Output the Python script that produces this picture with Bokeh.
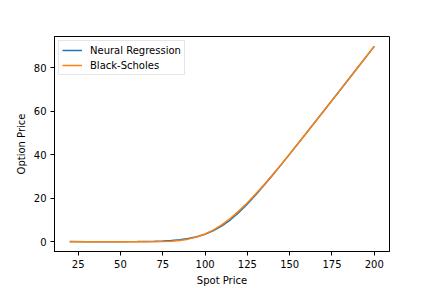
from bokeh.plotting import figure
from bokeh.models import Range1d, FixedTicker, Legend, LegendItem
from bokeh.embed import file_html
from bokeh.resources import INLINE

spot = [20, 30, 40, 50, 60, 65, 70, 75, 80, 85, 90, 95, 100, 105, 110, 115,
        120, 125, 130, 135, 140, 145, 150, 160, 170, 180, 190, 200]
neural = [0.05, 0.04, 0.03, 0.03, 0.05, 0.1, 0.2, 0.35, 0.6, 0.95, 1.45, 2.25,
          3.45, 5.1, 7.3, 10.1, 13.5, 17.4, 21.6, 26.1, 30.7, 35.5, 40.35,
          50.15, 60.05, 70.0, 80.0, 89.95]
black_scholes = [0.0, 0.0, 0.0, 0.0, 0.0, 0.01, 0.03, 0.1, 0.26, 0.59, 1.19,
                 2.15, 3.56, 5.46, 7.9, 10.82, 14.19, 17.96, 22.05, 26.39,
                 30.93, 35.6, 40.4, 50.17, 60.06, 70.03, 80.01, 90.0]
x_ticks = [25, 50, 75, 100, 125, 150, 175, 200]
y_ticks = [0, 20, 40, 60, 80]

p = figure(width=432, height=288, output_backend="svg", toolbar_location=None,
           x_range=Range1d(11, 209), y_range=Range1d(-4.5, 94.5),
           min_border_left=54, min_border_top=36, min_border_right=43,
           min_border_bottom=36)
p.background_fill_color = "white"
p.border_fill_color = "white"
p.outline_line_color = "black"
p.outline_line_width = 1
p.xgrid.visible = False
p.ygrid.visible = False

r1 = p.line(spot, neural, line_color="#1f77b4", line_width=1.5)
r2 = p.line(spot, black_scholes, line_color="#ff7f0e", line_width=1.5)

for ax, ticks, lab in ((p.xaxis[0], x_ticks, "Spot Price"), (p.yaxis[0], y_ticks, "Option Price")):
    ax.ticker = FixedTicker(ticks=ticks)
    ax.axis_label = lab
    ax.axis_label_text_font = "DejaVu Sans"
    ax.axis_label_text_font_size = "10px"
    ax.axis_label_text_font_style = "normal"
    ax.axis_label_text_color = "black"
    ax.axis_label_standoff = 4
    ax.major_label_text_font = "DejaVu Sans"
    ax.major_label_text_font_size = "10px"
    ax.major_label_text_color = "black"
    ax.major_label_standoff = 4
    ax.major_tick_out = 4
    ax.major_tick_in = 0
    ax.minor_tick_out = 0
    ax.minor_tick_in = 0
    ax.axis_line_color = "black"
    ax.major_tick_line_color = "black"

legend = Legend(items=[LegendItem(label="Neural Regression", renderers=[r1]),
                       LegendItem(label="Black-Scholes", renderers=[r2])],
                location="top_left")
legend.label_text_font = "DejaVu Sans"
legend.label_text_font_size = "10px"
legend.label_text_color = "black"
legend.label_text_baseline = "middle"
legend.border_line_color = "#cccccc"
legend.border_line_width = 1
legend.background_fill_alpha = 0.8
legend.margin = 4
legend.padding = 3
legend.spacing = 3
legend.glyph_width = 20
legend.glyph_height = 12
legend.label_height = 12
legend.label_standoff = 8
p.add_layout(legend)

open("out.html", "w").write(file_html(p, INLINE))
